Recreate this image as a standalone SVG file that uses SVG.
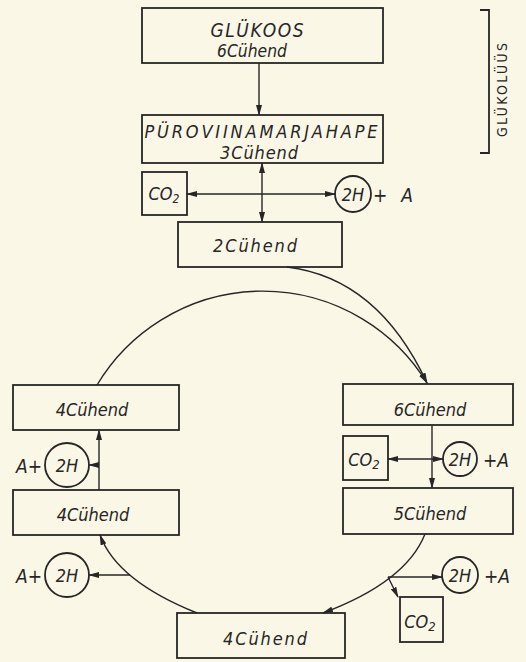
<svg xmlns="http://www.w3.org/2000/svg" width="526" height="662" viewBox="0 0 526 662">
<defs>
<marker id="ah" markerWidth="11" markerHeight="6" refX="10" refY="3" orient="auto-start-reverse" markerUnits="userSpaceOnUse">
<path d="M0,0 L11,3 L0,6 Z" fill="#262626"/>
</marker>
<style>
.box{fill:none;stroke:#262626;stroke-width:1.8}
.arr{fill:none;stroke:#262626;stroke-width:1.4;marker-end:url(#ah)}
.dbl{fill:none;stroke:#262626;stroke-width:1.4;marker-start:url(#ah);marker-end:url(#ah)}
.t{font-family:"DejaVu Sans Condensed","DejaVu Sans","Liberation Sans",sans-serif;font-style:italic;font-size:18px;fill:#262626;text-anchor:middle}
.s{font-size:19px}
.g{font-family:"DejaVu Sans Condensed","DejaVu Sans",sans-serif;font-size:14px;fill:#262626;text-anchor:middle}
</style>
</defs>
<rect width="526" height="662" fill="#fbf7e7"/>

<g id="connectors">
<line class="arr" x1="259" y1="63" x2="259" y2="115"/>
<line class="dbl" x1="262" y1="163" x2="262" y2="222"/>
<line class="dbl" x1="187" y1="194" x2="335" y2="194"/>
<path class="arr" d="M287,267 Q378,278 427,383"/>
<path class="arr" d="M97,385 A193,193 0 0 1 427,383"/>
<line class="arr" x1="432" y1="425" x2="432" y2="488"/>
<line class="dbl" x1="388" y1="459" x2="443" y2="459"/>
<path class="arr" d="M425,534 Q406,582 323,613"/>
<line class="arr" x1="388" y1="577" x2="442" y2="577"/>
<line class="arr" x1="388" y1="577" x2="398" y2="597"/>
<path class="arr" d="M197,613 Q117,581 100,535"/>
<line class="arr" x1="130" y1="575" x2="89" y2="575"/>
<line class="arr" x1="99" y1="490" x2="99" y2="430"/>
<line class="arr" x1="99" y1="465" x2="89" y2="465"/>
</g>

<g id="glukoos">
<rect class="box" x="142" y="8" width="241" height="55"/>
<text class="t s" x="257" y="37" textLength="93" lengthAdjust="spacing">GLÜKOOS</text>
<text class="t" x="252" y="57" textLength="70" lengthAdjust="spacingAndGlyphs">6Cühend</text>
</g>

<g id="puroviinamarjahape">
<rect class="box" x="142" y="115" width="241" height="48"/>
<text class="t" x="261" y="138" textLength="233" lengthAdjust="spacing">PÜROVIINAMARJAHAPE</text>
<text class="t" x="259" y="159" textLength="78" lengthAdjust="spacing">3Cühend</text>
</g>

<g id="co2-top">
<rect class="box" x="142" y="172" width="45" height="43"/>
<text class="t" x="164" y="200">CO<tspan font-size="12" dy="3">2</tspan></text>
</g>

<g id="h2-top">
<circle class="box" cx="353" cy="194" r="18"/>
<text class="t" x="353" y="201">2H</text>
<text class="t s" x="393" y="202" textLength="40" lengthAdjust="spacing">+A</text>
</g>

<g id="c2">
<rect class="box" x="178" y="222" width="164" height="45"/>
<text class="t" x="255" y="252" textLength="84" lengthAdjust="spacing">2Cühend</text>
</g>

<g id="c6">
<rect class="box" x="343" y="384" width="170" height="41"/>
<text class="t" x="430" y="416">6Cühend</text>
</g>

<g id="co2-right">
<rect class="box" x="343" y="436" width="45" height="44"/>
<text class="t" x="364" y="466">CO<tspan font-size="13" dy="3">2</tspan></text>
</g>

<g id="h2-right">
<circle class="box" cx="460" cy="459" r="17"/>
<text class="t" x="460" y="466">2H</text>
<text class="t s" x="496" y="467">+A</text>
</g>

<g id="c5">
<rect class="box" x="343" y="488" width="170" height="46"/>
<text class="t" x="430" y="520">5Cühend</text>
</g>

<g id="h2-bottom-right">
<circle class="box" cx="460" cy="575" r="18"/>
<text class="t" x="460" y="582">2H</text>
<text class="t s" x="497" y="583">+A</text>
</g>

<g id="co2-bottom">
<rect class="box" x="400" y="597" width="43" height="45"/>
<text class="t" x="420" y="628">CO<tspan font-size="13" dy="3">2</tspan></text>
</g>

<g id="c4-bottom">
<rect class="box" x="177" y="613" width="168" height="45"/>
<text class="t" x="265" y="645" textLength="84" lengthAdjust="spacing">4Cühend</text>
</g>

<g id="h2-bottom-left">
<circle class="box" cx="67" cy="575" r="22"/>
<text class="t" x="67" y="582">2H</text>
<text class="t s" x="29" y="583">A+</text>
</g>

<g id="c4-lower-left">
<rect class="box" x="13" y="490" width="166" height="45"/>
<text class="t" x="93" y="521">4Cühend</text>
</g>

<g id="h2-left">
<circle class="box" cx="67" cy="465" r="22"/>
<text class="t" x="67" y="472">2H</text>
<text class="t s" x="29" y="473">A+</text>
</g>

<g id="c4-upper-left">
<rect class="box" x="13" y="385" width="166" height="45"/>
<text class="t" x="92" y="416">4Cühend</text>
</g>

<g id="glukoluus">
<path class="box" d="M480,10 H489 V153 H480" stroke-width="1.5"/>
<text class="g" transform="translate(507,90) rotate(-90)" textLength="94" lengthAdjust="spacing">GLÜKOLÜÜS</text>
</g>
</svg>
